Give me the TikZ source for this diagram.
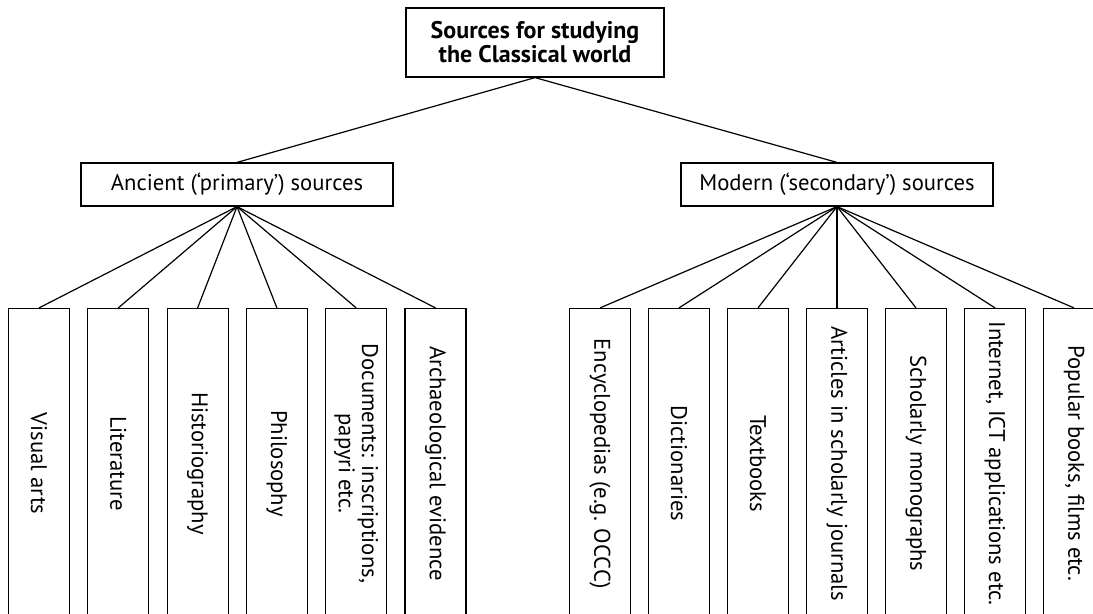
\documentclass[tikz,border=0pt]{standalone}
\usepackage{fontspec}
\setmainfont{PT Sans}
\usepackage{tikz}

\tikzset{
  box/.style={draw, line width=0.9pt, inner sep=2pt, align=center},
  topbox/.style={box, font=\bfseries\fontsize{18}{18}\selectfont, minimum width=193.5pt, minimum height=51.75pt},
  groupbox/.style={box, font=\fontsize{17}{18}\selectfont, minimum width=234pt, minimum height=32.25pt},
  srcbox/.style={box, rotate=-90, font=\fontsize{17}{17.5}\selectfont, minimum width=232.5pt, minimum height=45.75pt},
  link/.style={line width=0.9pt}
}

\begin{document}
\begin{tikzpicture}[x=0.75pt, y=-0.75pt]
  \useasboundingbox (0,0) rectangle (1093,614);

  % korzen
  \node[topbox] (top) at (535,42.5) {Sources for studying\\the Classical world};

  % dwie grupy
  \node[groupbox] (ancient) at (237,184.5) {Ancient (`primary') sources};
  \node[groupbox] (modern) at (837,184.5) {Modern (`secondary') sources};
  \draw[link] (top.south) -- (ancient.north);
  \draw[link] (top.south) -- (modern.north);

  % zrodla starozytne
  \foreach \i/\txt in {1/Visual arts, 2/Literature, 3/Historiography, 4/Philosophy,
      5/{Documents: inscriptions,\\papyri etc.}, 6/Archaeological evidence} {
    \node[srcbox] (a\i) at ({39+79.3*(\i-1)},463.5) {\txt};
    \draw[link] (ancient.south) -- (a\i.west);
  }

  % zrodla nowozytne
  \foreach \i/\txt in {1/Encyclopedias (e.g. OCCC), 2/Dictionaries, 3/Textbooks,
      4/Articles in scholarly journals, 5/Scholarly monographs,
      6/{Internet, ICT applications etc.}, 7/{Popular books, films etc.}} {
    \node[srcbox] (m\i) at ({600+79*(\i-1)},463.5) {\txt};
    \draw[link] (modern.south) -- (m\i.west);
  }
\end{tikzpicture}
\end{document}
